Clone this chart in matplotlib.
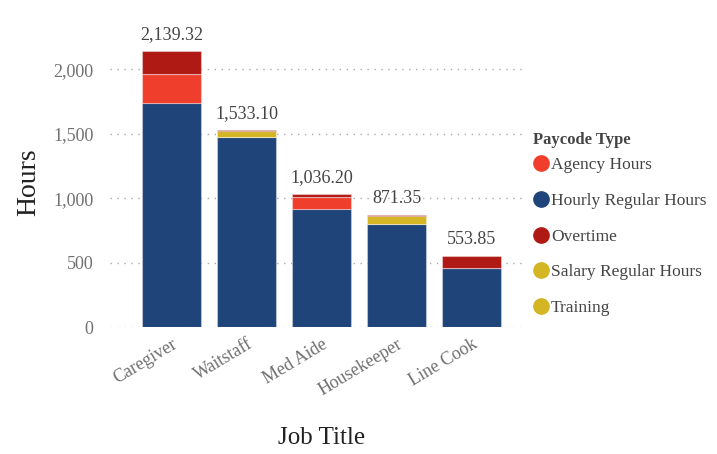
import matplotlib
matplotlib.use("Agg")
import matplotlib.pyplot as plt
from matplotlib.lines import Line2D
import numpy as np

jobs = ["Caregiver", "Waitstaff", "Med Aide", "Housekeeper", "Line Cook"]
hourly_regular = [1736, 1477, 917, 801, 462]
agency = [225, 0, 91, 0, 0]
salary_regular = [0, 0, 0, 0, 0]
training = [0, 47, 0, 62, 0]
overtime = [178.32, 9.10, 28.20, 8.35, 91.85]
totals = [2139.32, 1533.10, 1036.20, 871.35, 553.85]

series = [
    ("Hourly Regular Hours", hourly_regular, "#1e4479"),
    ("Agency Hours", agency, "#ef3e2c"),
    ("Salary Regular Hours", salary_regular, "#d4b523"),
    ("Training", training, "#d4b523"),
    ("Overtime", overtime, "#b01a15"),
]
legend_order = ["Agency Hours", "Hourly Regular Hours", "Overtime",
                "Salary Regular Hours", "Training"]
colors = {name: c for name, _, c in series}

plt.rcParams["font.family"] = ["Liberation Serif", "DejaVu Serif"]

W, H = 717, 454
fig = plt.figure(figsize=(W / 100, H / 100), dpi=100)
ax = fig.add_axes([0.1534, 0.279, 0.5786, 0.6394])

x = np.arange(len(jobs))
bottom = np.zeros(len(jobs))
for name, vals, c in series:
    vals = np.array(vals, dtype=float)
    ax.bar(x, vals, bottom=bottom, width=0.78, color=c,
           edgecolor=(1, 1, 1, 0.35), linewidth=0.8, zorder=3)
    bottom += vals

for xi, t in zip(x, totals):
    ax.text(xi, t + 60, f"{t:,.2f}", ha="center", va="bottom",
            fontsize=13, color="#444444", clip_on=False)

ax.set_xlim(-0.82, 4.71)
ax.set_ylim(0, 2250)
ax.set_yticks([0, 500, 1000, 1500, 2000])
ax.set_yticklabels(["0", "500", "1,000", "1,500", "2,000"])
ax.grid(axis="y", linestyle=(0, (1, 4)), color="#aaaaaa", linewidth=1, zorder=0)
for s in ax.spines.values():
    s.set_visible(False)
ax.tick_params(axis="both", length=0, labelsize=13, labelcolor="#707070")
ax.tick_params(axis="y", pad=12)
ax.set_xticks(x)
ax.set_xticklabels(jobs, rotation=31, ha="right", rotation_mode="anchor")
ax.tick_params(axis="x", pad=6)

fig.text(29 / W, 1 - 182 / H, "Hours", rotation=90, ha="center", va="center",
         fontsize=20, color="#222222")
fig.text(322 / W, 1 - 438 / H, "Job Title", ha="center", va="center",
         fontsize=18, color="#222222")

# legend (drawn manually in figure coordinates)
fig.text(533 / W, 1 - 138 / H, "Paycode Type", ha="left", va="center_baseline",
         fontsize=12, fontweight="bold", color="#444444")
for i, name in enumerate(legend_order):
    yy = 1 - (163 + i * 35.8) / H
    fig.add_artist(Line2D([541 / W], [yy], marker="o", linestyle="none",
                          markersize=11, markerfacecolor=colors[name],
                          markeredgecolor=colors[name],
                          transform=fig.transFigure))
    fig.text(551 / W, yy, name, ha="left", va="center_baseline",
             fontsize=12.5, color="#444444")

fig.savefig("out.png", dpi=100)
